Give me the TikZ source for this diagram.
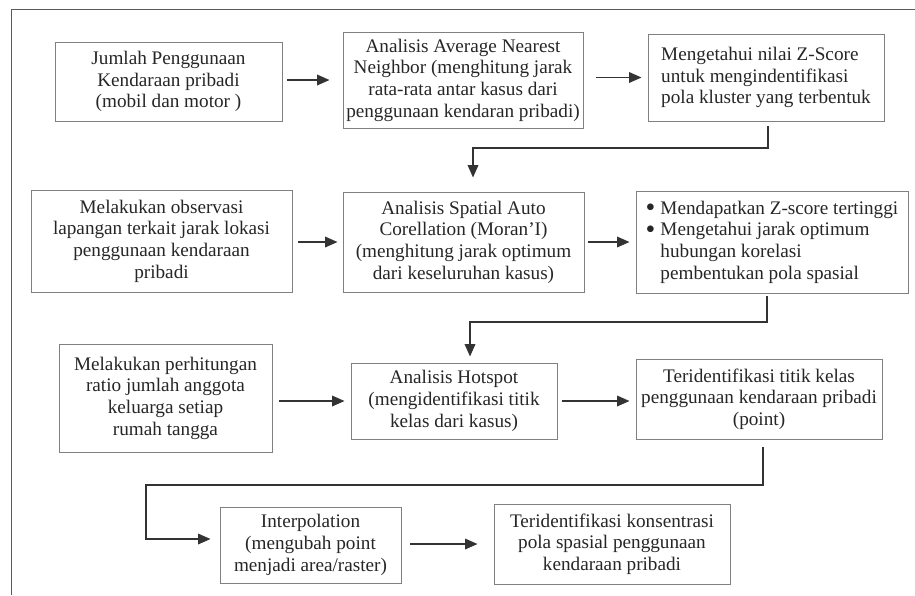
\documentclass[tikz,border=0pt]{standalone}
\usepackage{fontspec}
\setmainfont{Liberation Serif}
\usetikzlibrary{arrows.meta}
\newcommand\bigbul{\raisebox{-0.14em}{\scalebox{1.45}{\textbullet}}}
\tikzset{
  box/.style={draw=black!50, line width=0.9pt, inner sep=1pt, align=center,
    font=\fontsize{19.2}{21.7}\selectfont, text=black!85},
  arr/.style={draw=black!80, line width=1.8pt, -{Triangle[length=12.5pt,width=10.5pt]}},
  frameline/.style={draw=black!65, line width=1pt}
}
\begin{document}
\begin{tikzpicture}[x=1pt,y=-1pt]
\useasboundingbox (0,0) rectangle (915,595);
% frame
\coordinate (fa) at (11,9.5);
\coordinate (fb) at (915,9.5);
\coordinate (fc) at (11,595);
\draw[frameline] (fc) -- (fa) -- (fb);
% row 1
\node[box, minimum width=227pt, minimum height=79pt] (b1) at (168.5,81.5)
  {Jumlah Penggunaan\\Kendaraan pribadi\\(mobil dan motor )};
\node[box, minimum width=240pt, minimum height=96pt] (b2) at (463,80)
  {Analisis Average Nearest\\Neighbor (menghitung jarak\\rata-rata antar kasus dari\\penggunaan kendaran pribadi)};
\node[box, align=left, minimum width=236pt, minimum height=87pt] (b3) at (766,77.5)
  {Mengetahui nilai Z-Score\\untuk mengindentifikasi\\pola kluster yang terbentuk};
% row 2
\node[box, minimum width=261pt, minimum height=102pt] (b4) at (161.5,241)
  {Melakukan observasi\\lapangan terkait jarak lokasi\\penggunaan kendaraan\\pribadi};
\node[box, minimum width=241pt, minimum height=100pt] (b5) at (463.5,242)
  {Analisis Spatial Auto\\Corellation (Moran’I)\\(menghitung jarak optimum\\dari keseluruhan kasus)};
\node[box, align=left, minimum width=272pt, minimum height=102pt] (b6) at (772,242)
  {\bigbul\hspace{5pt}Mendapatkan Z-score tertinggi\\
   \bigbul\hspace{5pt}Mengetahui jarak optimum\\
   \phantom{\bigbul}\hspace{5pt}hubungan korelasi\\
   \phantom{\bigbul}\hspace{5pt}pembentukan pola spasial};
% row 3
\node[box, minimum width=213pt, minimum height=108pt] (b7) at (165.5,398)
  {Melakukan perhitungan\\ratio jumlah anggota\\keluarga setiap\\rumah tangga};
\node[box, minimum width=206pt, minimum height=76pt] (b8) at (454,401)
  {Analisis Hotspot\\(mengidentifikasi titik\\kelas dari kasus)};
\node[box, minimum width=246pt, minimum height=80pt] (b9) at (759,399)
  {Teridentifikasi titik kelas\\penggunaan kendaraan pribadi\\(point)};
% row 4
\node[box, minimum width=181pt, minimum height=76pt] (b10) at (310.5,545)
  {Interpolation\\(mengubah point\\menjadi area/raster)};
\node[box, minimum width=236pt, minimum height=80pt] (b11) at (612,544)
  {Teridentifikasi konsentrasi\\pola spasial penggunaan\\kendaraan pribadi};
% horizontal arrows
\draw[arr, shorten <=5pt, shorten >=13pt] (b1.east |- b2.west) -- (b2.west);
\draw[arr, shorten <=13pt, shorten >=6pt] (b2.east |- b3.west) -- (b3.west);
\draw[arr, shorten <=6pt, shorten >=5pt] (b4.east |- b5.west) -- (b5.west);
\draw[arr, shorten <=4pt, shorten >=6pt] (b5.east) -- (b5.east -| b6.west);
\draw[arr, shorten <=7pt, shorten >=6pt] (b7.east |- b8.west) -- (b8.west);
\draw[arr, shorten <=5pt, shorten >=6pt] (b8.east) -- (b8.east -| b9.west);
\draw[arr, shorten <=9pt, shorten >=16pt] (b10.east |- b11.west) -- (b11.west);
% elbow connectors
\coordinate (k1) at (473,148);
\draw[arr, shorten >=14pt] ([xshift=2pt,yshift=-5pt]b3.south) |- (k1) -- (k1 |- b5.north);
\coordinate (k2) at (470,322);
\draw[arr, shorten >=6pt] ([xshift=-5pt,yshift=-3pt]b6.south) |- (k2) -- (k2 |- b8.north);
\coordinate (k3) at (146,485);
\coordinate (k4) at (146,539);
\draw[arr, shorten >=9pt] ([xshift=4pt,yshift=-8pt]b9.south) |- (k3) -- (k4) -- (k4 -| b10.west);
\end{tikzpicture}
\end{document}
